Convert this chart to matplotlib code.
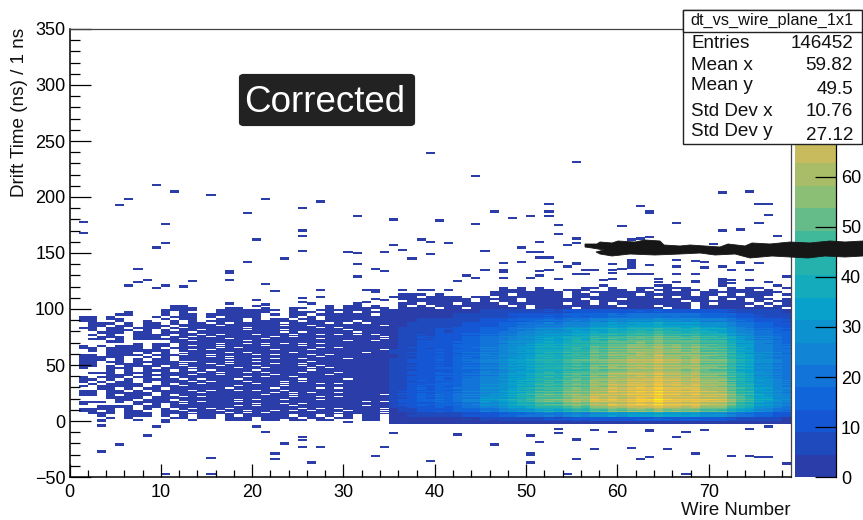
# dt_vs_wire_plane_1x1 : drift time vs wire number, ROOT style COLZ plot
import numpy as np
from matplotlib import pyplot as plt
from matplotlib.colors import LinearSegmentedColormap, BoundaryNorm
from matplotlib.patches import FancyBboxPatch, Polygon, Rectangle
from matplotlib.ticker import MultipleLocator

plt.rcParams['font.family'] = ['Liberation Sans', 'DejaVu Sans']

W, H = 863., 520.

# DATA
# isolated cells
lone_wire = [1, 1, 5, 6, 9, 11, 15, 17, 19, 20, 19, 21, 23, 25, 25, 25, 25, 27, 30, 31, 31, 31, 31, 33, 34, 34,
             35, 35, 36, 37, 38, 39, 39, 39, 9, 10, 10, 7, 6, 7, 8, 9, 10, 12, 13, 17, 17, 17, 21, 22, 20, 21,
             25, 25, 26, 27, 27, 31, 32, 33, 33, 34, 33, 34, 35, 31, 32,
             9, 10, 8, 5, 3, 3, 3, 3, 15, 10, 15, 20, 21, 23, 22, 22, 25, 25, 25, 26, 27, 33, 34, 35, 30, 35,
             42, 46, 39, 50, 51, 50, 50, 50, 53, 53, 55, 55, 55, 54, 57, 59, 57, 61, 63, 63, 62, 63, 65, 66, 67,
             67, 68, 69, 72, 74, 74, 75, 76, 76, 78,
             44, 55, 40, 46, 48, 50, 44, 52, 52, 52, 53, 53, 60, 62, 63, 63, 66, 71, 74, 75, 76, 76, 75, 71, 73,
             77, 39, 41, 45, 39, 49, 50, 51, 51, 52, 53, 55, 55, 54, 61, 62, 63, 70, 47, 49, 51, 45, 47, 47, 51,
             52, 54, 55, 55, 55, 56, 57, 56, 59, 59, 59, 60, 61, 61, 61, 61, 61, 61, 61, 61, 62, 63, 63, 66, 66,
             66, 68, 69, 69, 68, 71, 72, 73, 73, 74, 75, 78, 78, 43, 44, 42, 47, 50, 51, 53, 58, 59, 64, 64, 66,
             68, 68, 71, 71, 71, 72, 72, 74, 76]
lone_time = [177, 167, 192, 197, 210, 204, 201, 131, 185, 161, 141, 197, 144, 189, 169, 164, 151, 195, 150, 182,
             149, 139, 128, 135, 133, 150, 179, 156, 152, 144, 161, 159, 148, 238, 154, 158, 175, 135, 120, 123,
             125, 118, 120, 119, 124, 125, 104, 133, 121, 115, 107, 103, 109, 105, 104, 116, 110, 128, 116, 116,
             114, 133, 108, 107, 110, 104, 105,
             -6, -2, -14, -22, -28, -29, -5, -1, -34, -48, -48, -6, -11, -21, -30, -35, -15, -18, -24, -38, -24,
             -32, -24, -12, -2, -3,
             -13, -22, -37, -14, -20, -30, -31, -38, -8, -12, -17, -18, -35, -48, -9, -11, -26, -25, -9, -10, -35,
             -33, -26, -15, -11, -48, -30, -9, -32, -8, -32, -33, -6, -33, -39,
             218, 230, 178, 186, 180, 182, 175, 193, 186, 182, 174, 166, 173, 191, 185, 186, 176, 203, 204, 193,
             193, 183, 176, 169, 170, 164, 159, 158, 151, 148, 154, 150, 159, 150, 145, 141, 162, 158, 156, 161,
             162, 163, 157, 140, 141, 145, 134, 134, 132, 133, 134, 137, 140, 139, 130, 134, 134, 130, 139, 134,
             131, 135, 143, 142, 141, 140, 139, 138, 136, 130, 130, 138, 130, 143, 137, 130, 142, 141, 136, 130,
             137, 134, 141, 140, 134, 140, 128, 118, 129, 127, 124, 127, 127, 129, 126, 125, 126, 126, 123, 123,
             124, 123, 126, 124, 122, 125, 122, 125, 123]

# sparse part of the plane, wires 1 to 34, one string per 2 ns row, '#' = filled cell
sparse_time = np.arange(102, -2, -2)
sparse_rows = [
    "..........##.......#.......#.##.#.",
    "..........###...##..#..##..#.#####",
    ".........####..#######.#..######.#",
    ".....#...#.#...######..###.#.#.###",
    "....##...#.##.######.#.##.######.#",
    "##.#....#.###.#.####...#.#.#######",
    "##.##....#.##..###.#.##.##.#######",
    "##..#..#..#.#.####.#####.#####.###",
    ".###.#.##.#.##.#.#####.####.#.#.##",
    ".##.##.###.####.######.##.#######.",
    "##.##.###.#.######.#######.#.#####",
    ".#.###.#.#.##.####.###.######.####",
    "..###.##.###.#########.#.#####.###",
    ".#.#..####.##.#.###.###.##.#.#.#.#",
    "..###.###.##.#.######.#.#########.",
    ".##.#.#####.####.###.#####.######.",
    "...##.....##.#####.##########.##.#",
    "......#.##.####.##.#.#.#.#.#######",
    "#.#.###.##.#.##.####.###.#########",
    "##.####.#.#####.#.########.#.#####",
    ".#.#######.#.#.######.###.#######.",
    "...###.#.#..####.#.####.#######.##",
    "##.####.###.##.####.#.###.#.######",
    "#####..#.#.###.#.#########.#######",
    "###.#.#.##.#####.##.#.##.####.####",
    "##.##.#####..###.##.#####.########",
    "##..###.###.##.#.####.##.#########",
    "##.#.####.#.###.###.####.#.#######",
    "#..###.#.###.####.##.####.#.######",
    "...#.#.###.#.#.####.#####.########",
    ".###.###.####.#.##.#.###.###.#####",
    "...###.#####.##.#####.#####.######",
    "#.###.##.#.#######.#.##.##########",
    "##.#.#.####.#.###.######.####.####",
    "#.#.##.#.###.#.###.###.#.#########",
    ".#.####..#.##.#####.##.###.#.#####",
    "#.#####.###.#####.####.###########",
    "..##.#.##.######.####.####.#.#####",
    "##.##.#.####.#.##.#.##.###########",
    "##.#####.####.#######.#.#.##.#####",
    "##.#.###.#.#########.##.#########.",
    "...####.###.#.#########.##.#.#####",
    "....##.###.######.#.##.###.#######",
    "###.#.#####.#.###.#############.#.",
    "#.....#.#.#.#######.##.#.#########",
    "..####.##.#######.#.###.#######.##",
    "####.#.#.#.#.#.#.#######.#.#.####.",
    "##.#.##..##.###.##.##.#.#.###.###.",
    ".###.###.###.###.#.#.#######.####.",
    "..#..###.#.#.##.#.#####.##.#.#.##.",
    "...#.#....##.##.###.####.##.##.##.",
    "..#...#..#..#...###.##.##.##...##.",
]

# top fringe of the dense part, wires 35 to 78, one string per 2 ns row
fringe_time = [120, 118, 116, 114, 112, 110, 108, 106, 104, 102, 100]
fringe_rows = [
    ".......................#.....##.....#.....#.",
    "............#.#.#....##.#..##.###....#.##...",
    ".#.##.#.....###.##.###..##.#.##.##.#.###.#..",
    "...........########.#.#######.###.#########.",
    ".###.#.....##.#####.##.####.#####.##.#.###.#",
    ".##.####.##.#######.#########.#.###.#####...",
    ".########.####.######.###.#########.#.#.##.#",
    "..#######.#.##.#######.#########.######.#.##",
    ".##.###.####.######.##.#.########.#.####.#.#",
    ".#.#.########.#.#########.###.###.#####.#.##",
    ".####.##.######.####.#########.##.#########.",
]

# dense part, wires 35 to 78, counts per cell, rows from top to bottom
dense_wire_start = 35
dense_time_edges = [100, 96, 92, 88, 84, 80, 76, 72, 68, 64, 60, 56, 52, 48, 44, 40, 36, 32, 28, 24, 20, 16, 12,
                    8, 4, 0, -3]
dense_counts = [
    [1,2,2,2,3,3,3,3,4,4,5,5,6,6,7,8,8,9,9,9,10,10,11,11,12,12,12,13,13,13,13,12,13,12,12,11,10,9,8,7,6,5,5,4],
    [2,2,3,4,4,4,4,5,5,6,7,8,8,9,10,11,12,13,13,14,15,15,16,17,18,18,19,19,20,20,19,19,19,18,17,17,16,14,13,11,9,8,7,6],
    [2,3,4,5,5,6,6,7,8,8,10,11,12,13,14,16,17,18,18,19,21,21,23,24,25,25,26,26,27,28,27,26,26,25,24,24,22,20,18,15,13,11,10,9],
    [3,4,5,6,6,7,7,8,9,10,12,13,15,16,18,20,21,22,23,24,25,26,28,29,31,31,32,33,34,34,33,32,33,31,30,30,27,24,22,19,16,14,12,11],
    [3,5,6,7,8,9,9,10,11,12,15,16,17,19,21,24,25,27,27,29,30,31,33,35,37,37,38,39,40,41,40,38,39,37,36,35,32,29,26,22,19,17,15,13],
    [4,6,7,8,8,10,10,11,13,14,17,18,20,21,24,27,28,30,31,32,34,35,38,39,41,42,43,44,46,46,45,43,44,42,41,40,36,33,29,25,21,19,17,15],
    [4,6,8,9,9,11,11,12,14,16,19,20,22,23,27,30,31,34,34,36,38,39,42,44,46,47,48,49,51,51,50,48,49,47,45,44,41,37,33,28,23,21,19,16],
    [4,7,8,10,10,11,11,13,15,16,20,21,23,25,28,31,33,35,36,38,40,41,44,46,48,49,51,52,53,54,52,51,52,49,48,47,43,39,34,30,25,22,20,17],
    [4,7,9,11,10,12,12,14,16,18,21,22,25,26,30,33,35,38,39,40,43,44,48,49,52,53,55,55,57,58,56,55,55,53,51,50,46,41,37,32,26,24,21,18],
    [5,7,9,11,11,13,13,14,16,18,22,23,25,27,31,34,36,39,40,41,44,45,49,50,53,54,56,57,59,59,58,56,57,54,52,51,47,42,38,32,27,24,22,19],
    [4,7,9,11,11,13,13,15,17,18,22,23,26,28,31,35,37,40,40,42,45,46,50,52,54,55,57,58,60,61,59,57,58,55,53,52,48,43,39,33,28,25,22,19],
    [5,8,10,11,11,13,13,15,17,19,23,24,27,29,32,36,38,41,42,44,47,48,51,53,56,57,59,60,62,63,61,59,60,57,55,54,49,45,40,34,29,26,23,20],
    [5,7,9,11,11,13,13,15,17,19,22,23,26,28,32,35,37,40,41,43,46,47,50,52,55,56,58,59,60,61,60,58,59,56,54,53,48,44,39,33,28,25,22,20],
    [5,8,10,11,11,13,14,15,17,19,23,24,27,29,32,36,38,41,42,44,47,48,51,53,56,57,59,60,62,63,61,59,60,57,55,54,49,45,40,34,29,26,23,20],
    [5,8,10,12,12,14,14,16,17,19,23,24,27,29,33,37,39,42,43,45,48,49,52,54,57,60,62,62,64,65,62,60,61,58,56,55,50,46,41,35,29,26,23,20],
    [5,8,10,12,12,14,14,16,18,20,24,25,28,30,34,38,40,43,44,46,49,50,54,56,59,60,62,63,65,66,64,62,63,60,58,57,52,47,42,36,30,27,24,21],
    [5,8,10,12,13,14,15,16,19,21,25,26,29,31,35,39,41,44,45,47,50,52,56,58,61,62,64,65,67,68,66,64,65,62,60,59,54,48,43,37,31,28,25,22],
    [5,8,11,13,13,15,15,17,19,21,25,27,30,32,36,40,42,46,47,49,52,53,57,59,63,64,66,67,69,70,68,66,67,64,61,60,55,50,45,38,32,29,25,22],
    [6,9,11,13,13,15,15,18,20,22,26,28,31,33,37,42,44,47,48,51,54,55,59,62,65,66,68,69,72,73,70,68,69,66,64,63,57,52,46,40,33,30,26,23],
    [6,9,12,14,14,17,17,19,21,24,28,30,33,35,40,45,47,51,52,54,58,59,64,66,65,66,68,69,72,74,71,68,69,66,68,67,61,55,50,42,35,32,28,25],
    [6,10,12,14,14,17,17,19,22,24,29,30,34,36,41,46,48,52,53,55,59,60,65,67,66,67,69,71,74,76,72,69,71,67,70,68,62,56,50,43,36,32,29,25],
    [5,9,11,13,13,15,15,17,19,22,26,27,30,32,37,41,43,46,48,50,53,54,58,60,64,65,67,68,70,71,69,67,68,65,63,62,56,51,45,39,32,29,26,23],
    [4,7,8,10,10,12,12,14,15,17,20,21,24,26,29,32,34,37,37,39,42,43,46,48,50,51,53,54,55,56,54,53,54,51,49,48,44,40,36,31,26,23,20,18],
    [3,4,5,6,6,7,7,8,9,10,12,13,14,15,17,19,20,22,22,23,25,25,27,28,30,30,31,32,33,33,32,31,32,30,29,29,26,24,21,18,15,14,12,11],
    [1,2,2,2,3,3,3,3,4,4,5,5,6,6,7,8,8,9,9,9,10,10,11,11,12,12,12,13,13,13,13,12,13,12,12,11,10,9,8,7,6,5,5,4],
    [1,1,1,1,1,1,1,1,1,1,1,1,1,1,1,2,1,1,2,1,1,1,1,1,2,1,2,2,2,2,1,1,1,1,1,1,1,1,1,1,1,1,1,1],
]
# fine row and wire structure seen on top of the coarse table, -3 to 99 ns and wires 35 to 78
row_streak = [1.0, 1.0, 1.0, 0.92, 1.08, 1.0, 0.95, 1.06, 1.0, 0.93, 1.05, 1.09, 0.96, 1.0, 1.07, 0.94, 1.02, 1.1,
              0.97, 0.91, 1.05, 1.0, 1.08, 0.95, 1.03, 0.93, 1.06, 1.0, 0.96, 1.09, 0.94, 1.02, 1.05, 0.92, 1.0,
              1.07, 0.97, 1.03, 0.93, 1.08, 1.0, 0.95, 1.05, 0.92, 1.04, 1.07, 0.96, 1.0, 0.93, 1.06, 1.02, 0.95,
              1.08, 0.98, 0.94, 1.05, 1.0, 1.07, 0.93, 1.03, 0.96, 1.06, 1.0, 0.94, 1.08, 0.97, 1.02, 0.92, 1.05,
              1.0, 0.96, 1.07, 0.94, 1.03, 1.0, 0.93, 1.06, 0.98, 1.04, 0.95, 1.08, 1.0, 0.94, 1.03, 0.97, 1.07,
              0.93, 1.0, 1.05, 0.96, 1.02, 0.94, 1.06, 1.0, 0.97, 1.04, 0.93, 1.05, 1.0, 0.96, 1.03, 0.98, 1.0]
wire_streak = [1.0, 1.0, 0.96, 1.04, 0.97, 1.03, 0.95, 1.02, 1.04, 0.96, 1.03, 0.97, 0.98, 1.05, 1.0, 0.96, 1.03,
               1.0, 0.95, 1.03, 1.02, 0.96, 1.04, 0.97, 1.03, 0.98, 1.02, 1.03, 0.97, 1.04, 0.98, 1.02, 0.96, 1.05,
               0.97, 0.98, 1.05, 1.0, 0.96, 1.03, 0.97, 1.04, 0.98, 1.0]

stat_names = ["Entries", "Mean x", "Mean y", "Std Dev x", "Std Dev y"]
stat_values = ["146452", "59.82", "49.5", "10.76", "27.12"]
stat_name_px = [44, 65, 86, 112, 132]
stat_value_px = [44, 66, 89, 112, 135]

z_max = 89.6
n_levels = 20
# 70 and 80 lie behind the stats box
z_ticks = [0, 10, 20, 30, 40, 50, 60]

# smudge across the picture, outline in picture pixels
smudge_x = [585, 597, 600, 612, 618, 635, 645, 660, 664, 680, 690, 705, 720, 728, 745, 752, 770, 790, 810, 830, 845, 863,
            863, 845, 825, 808, 790, 772, 750, 735, 715, 700, 680, 655, 630, 612, 600, 596, 604, 592, 585]
smudge_y = [244, 244, 242, 243, 241, 242, 240, 241, 245, 246, 245, 246, 247, 244, 246, 243, 244, 242, 243, 241, 242, 241,
            256, 257, 256, 258, 257, 256, 258, 254, 255, 253, 254, 255, 254, 256, 254, 252, 250, 248, 247]

# ROOT kBird palette, the darkest colour as it looks in the picture
bird = LinearSegmentedColormap.from_list("bird", [
    (0.165, 0.240, 0.660), (0.0592, 0.3599, 0.8684), (0.0780, 0.5041, 0.8385),
    (0.0232, 0.6419, 0.7914), (0.1802, 0.7178, 0.6425), (0.5301, 0.7492, 0.4662),
    (0.8186, 0.7328, 0.3499), (0.9956, 0.7862, 0.1968), (0.9764, 0.9832, 0.0539)])
levels = np.linspace(0, z_max, n_levels + 1)
norm = BoundaryNorm(levels, bird.N)

# FILL THE 1 ns x 1 wire PLANE
x_edges = np.arange(0, 80)
y_edges = np.arange(-50, 351)
plane = np.zeros((400, 79))
for w, t in zip(lone_wire, lone_time):
    plane[t + 50:t + 52, w] = 1
for t, row in zip(sparse_time, sparse_rows):
    for i, c in enumerate(row):
        if c == "#":
            plane[t + 50:t + 52, i + 1] = 2
        elif i >= 11 and 6 <= t <= 86:
            # the holes of the crowded wires are only one bin high
            plane[t + 50, i + 1] = 2
for t, row in zip(fringe_time, fringe_rows):
    for i, c in enumerate(row):
        if c == "#":
            plane[t + 50:t + 52, dense_wire_start + i] = 2
for r, row in enumerate(dense_counts):
    top, bottom = dense_time_edges[r], dense_time_edges[r + 1]
    for i, v in enumerate(row):
        for t in range(bottom, top):
            plane[t + 50, dense_wire_start + i] = v * row_streak[t + 3] * wire_streak[i]

fig = plt.figure(figsize=(W / 100., H / 100.), dpi=100)

def px_axes(x0, y0, x1, y1):
    return fig.add_axes([x0 / W, 1 - y1 / H, (x1 - x0) / W, (y1 - y0) / H])

def px_text(x, y, s, **kw):
    return fig.text(x / W, 1 - y / H, s, **kw)

# MAIN PAD
ax = px_axes(69.5, 29, 791, 477)
ax.pcolormesh(x_edges, y_edges, np.ma.masked_equal(plane, 0), cmap=bird, norm=norm, rasterized=True)
ax.set_xlim(0, 79)
ax.set_ylim(-50, 350)
ax.xaxis.set_major_locator(MultipleLocator(10))
ax.xaxis.set_minor_locator(MultipleLocator(2))
ax.yaxis.set_major_locator(MultipleLocator(50))
ax.yaxis.set_minor_locator(MultipleLocator(10))
ax.tick_params(axis="x", which="major", direction="in", length=9.5, width=0.9, labelsize=13, pad=5)
ax.tick_params(axis="x", which="minor", direction="in", length=4.7, width=0.9)
ax.tick_params(axis="y", which="major", direction="in", length=15, width=0.9, labelsize=13, pad=3)
ax.tick_params(axis="y", which="minor", direction="in", length=7.5, width=0.9)
for s in ["left", "bottom"]:
    ax.spines[s].set_linewidth(1.1)
for s in ["top", "right"]:
    ax.spines[s].set_linewidth(0.9)
    ax.spines[s].set_color("#444444")

px_text(790, 515, "Wire Number", ha="right", va="baseline", fontsize=13.4, color="#111111")
fig.text(19.5 / W, 1 - 112 / H, "Drift Time (ns) / 1 ns", rotation=90, ha="center", va="center",
         fontsize=13.6, color="#111111")

# COLOR BAR
cax = px_axes(794.5, 29, 835.5, 477)
cax.pcolormesh([0, 1], levels, levels[:-1].reshape(-1, 1), cmap=bird, norm=norm, rasterized=True)
cax.set_xticks([])
cax.set_ylim(0, z_max)
cax.yaxis.tick_right()
cax.set_yticks(z_ticks)
cax.tick_params(axis="y", direction="in", length=15, width=0.9, labelsize=13, pad=4)
for s in cax.spines.values():
    s.set_visible(False)
cax.spines["right"].set_visible(True)
cax.spines["right"].set_linewidth(0.9)

# LABEL AND STATS BOX
fig.add_artist(FancyBboxPatch((241 / W, 1 - 124 / H), 172 / W, 48 / H, boxstyle="round,pad=0,rounding_size=0.003",
                              transform=fig.transFigure, fc="#222222", ec="#222222", lw=3, zorder=5))
px_text(325, 103, "Corrected", ha="center", va="center", fontsize=26.5, color="white", zorder=6)

fig.add_artist(Rectangle((682.5 / W, 1 - 144 / H), 179.5 / W, 134 / H, transform=fig.transFigure,
                         fc="white", ec="#222222", lw=1.0, zorder=7))
fig.add_artist(Rectangle((682.5 / W, 1 - 32 / H), 179.5 / W, 22 / H, transform=fig.transFigure,
                         fc="white", ec="#222222", lw=1.0, zorder=7))
px_text(772, 20, "dt_vs_wire_plane_1x1", ha="center", va="center", fontsize=11.8, color="#111111", zorder=8)
for name, val, yn, yv in zip(stat_names, stat_values, stat_name_px, stat_value_px):
    px_text(691, yn, name, ha="left", va="center", fontsize=13.6, color="#111111", zorder=8)
    px_text(853, yv, val, ha="right", va="center", fontsize=13.6, color="#111111", zorder=8)

# SMUDGE
fig.add_artist(Polygon(np.column_stack([np.array(smudge_x) / W, 1 - np.array(smudge_y) / H]),
                       transform=fig.transFigure, fc="#161616", ec="#161616", lw=0.6, zorder=9))

plt.savefig("out.png", dpi=100)
plt.close("all")
